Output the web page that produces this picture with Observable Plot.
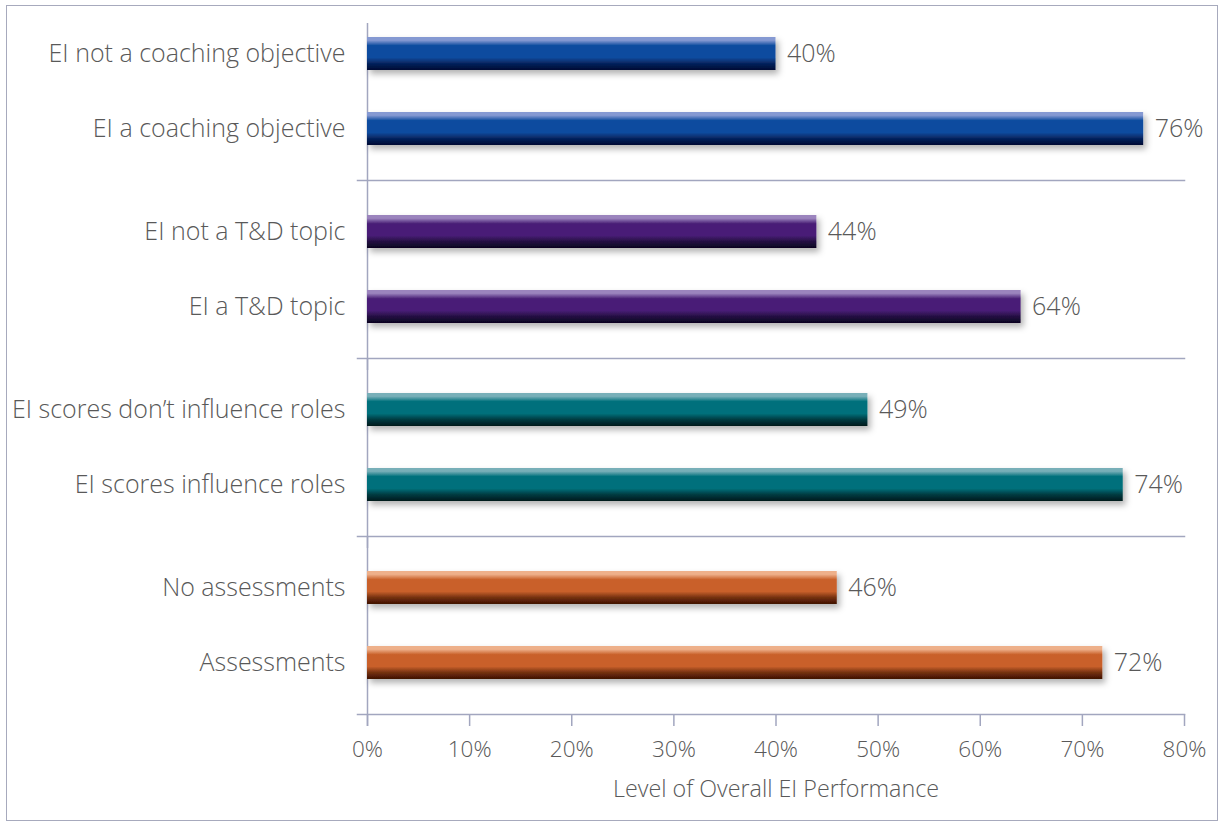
<!DOCTYPE html>
<html><head><meta charset="utf-8">
<script src="https://cdn.jsdelivr.net/npm/d3@7"></script>
<script src="https://cdn.jsdelivr.net/npm/@observablehq/plot@0.6"></script>
<style>
body{margin:0;background:#fff;}
#wrap{position:relative;width:1222px;height:822px;overflow:hidden;}
#border{position:absolute;left:6px;top:5px;width:1212px;height:816px;border:1.5px solid #a7aabd;box-sizing:border-box;pointer-events:none;}
</style></head><body><div id="wrap"><div id="border"></div></div>
<script>
const labels = [
  "EI not a coaching objective", "EI a coaching objective",
  "EI not a T&D topic", "EI a T&D topic",
  "EI scores don\u2019t influence roles", "EI scores influence roles",
  "No assessments", "Assessments"
];
const values = [40, 76, 44, 64, 49, 74, 46, 72];
const groups = ["coaching", "coaching", "td", "td", "roles", "roles", "assess", "assess"];
const ranks = ["first", "second", "first", "second", "first", "second", "first", "second"];
const groupOrder = ["coaching", "td", "roles", "assess"];
const xTicks = [0, 10, 20, 30, 40, 50, 60, 70, 80];
const axisLabel = "Level of Overall EI Performance";
// gradient colours per group: [top highlight, main, bottom dark]
const groupColors = [
  ["#8599d2", "#0e4c9f", "#000833"],
  ["#9b84bd", "#4a1f77", "#0a0420"],
  ["#78afb8", "#00707b", "#011a1c"],
  ["#eeb08a", "#c9612b", "#3f1200"]
];

const data = labels.map((label, i) => ({label, value: values[i], group: groups[i], rank: ranks[i]}));
const axisColor = "#a2a6bf";
const textColor = "#595959";
const font = "'Open Sans'";

const barMarks = groupOrder.map((g, i) =>
  Plot.barX(data.filter(d => d.group === g), {x: "value", y: "rank", fy: "group", fill: `url(#grad${i})`})
);

const plot = Plot.plot({
  width: 1222, height: 822,
  marginLeft: 367, marginRight: 38, marginTop: 1, marginBottom: 107,
  style: {fontFamily: font, fontSize: "22.5px", color: textColor, background: "transparent", fontWeight: 300},
  x: {domain: [0, 80], ticks: xTicks, tickFormat: d => d + "%", label: null, tickSize: 12, tickPadding: 15},
  y: {domain: ["first", "second"], paddingInner: 0.563, paddingOuter: 0.4635, axis: null},
  fy: {domain: groupOrder, padding: 0, axis: null},
  marks: [
    Plot.frame({anchor: "bottom", stroke: axisColor, strokeWidth: 1.5, insetLeft: -10}),
    Plot.ruleX(groupOrder.slice(0, 1), {x: () => 0, fy: d => d, stroke: axisColor, strokeWidth: 1.5, insetTop: 21}),
    Plot.ruleX(groupOrder.slice(1), {x: () => 0, fy: d => d, stroke: axisColor, strokeWidth: 1.5, insetBottom: -12}),
    ...barMarks,
    Plot.text(data, {y: "rank", fy: "group", text: "label", frameAnchor: "left", textAnchor: "end", dx: -22, fontSize: 25, fill: textColor}),
    Plot.text(data, {x: "value", y: "rank", fy: "group", text: d => d.value + "%", textAnchor: "start", dx: 11, fontSize: 25, fill: textColor}),
    Plot.text([axisLabel], {fy: () => groupOrder[groupOrder.length - 1], text: d => d, frameAnchor: "bottom", lineAnchor: "middle", dy: 75, fontSize: 23.3, fill: textColor})
  ]
});

const svg = d3.select(plot);
const defs = svg.insert("defs", ":first-child");
groupColors.forEach((c, i) => {
  const lg = defs.append("linearGradient").attr("id", `grad${i}`).attr("x1", 0).attr("y1", 0).attr("x2", 0).attr("y2", 1);
  [[0, c[0]], [0.1, c[0]], [0.26, c[1]], [0.62, c[1]], [0.8, d3.interpolateRgb(c[1], c[2])(0.6)], [1, c[2]]]
    .forEach(([o, col]) => lg.append("stop").attr("offset", o).attr("stop-color", col));
});
const f = defs.append("filter").attr("id", "shadow").attr("x", "-5%").attr("y", "-30%").attr("width", "110%").attr("height", "180%");
f.append("feDropShadow").attr("dx", 3).attr("dy", 4).attr("stdDeviation", 3).attr("flood-color", "#000").attr("flood-opacity", 0.3);
svg.selectAll("g[aria-label='bar'] rect").attr("filter", "url(#shadow)");
svg.selectAll("g[aria-label^='x-axis'] line, g[aria-label^='x-axis'] path").attr("stroke", axisColor).attr("stroke-width", 1.5);
svg.selectAll("g[aria-label^='x-axis'] text").attr("fill", textColor);

document.getElementById("wrap").insertBefore(plot, document.getElementById("border"));
plot.style.position = "absolute"; plot.style.left = "0"; plot.style.top = "0";
</script>
</body></html>
